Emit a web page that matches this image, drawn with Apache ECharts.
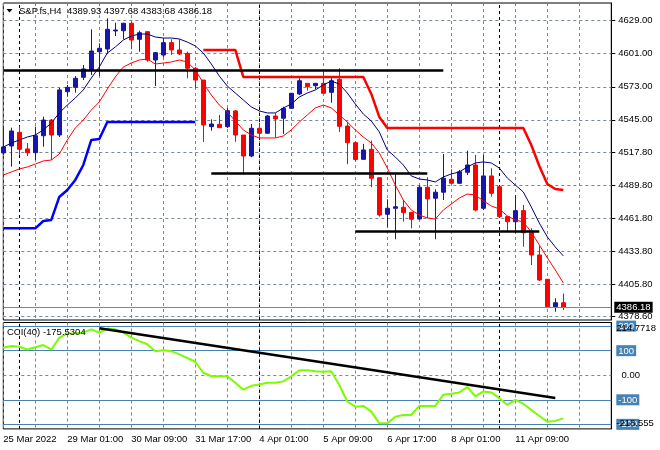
<!DOCTYPE html>
<html><head><meta charset="utf-8">
<script src="https://cdn.jsdelivr.net/npm/echarts@6/dist/echarts.min.js"></script>
<style>html,body{margin:0;padding:0;background:#fff}#c{width:660px;height:450px}</style>
</head><body><div id="c"></div>
<script>
const symbolName = 'S&P.fs,H4';
const opens = [4516.9,4522.8,4534.4,4520.3,4517.1,4531.5,4544.8,4532.1,4568.8,4572.5,4581.0,4587.2,4602.7,4605.0,4620.3,4620.5,4626.8,4613.2,4619.7,4595.7,4599.9,4610.4,4604.2,4601.4,4588.7,4578.7,4539.2,4541.2,4539.2,4552.5,4532.1,4514.3,4537.8,4533.6,4548.2,4546.3,4554.7,4566.9,4575.9,4573.9,4575.9,4568.3,4579.3,4539.7,4525.6,4511.5,4520.0,4495.9,4464.9,4470.0,4470.8,4466.6,4460.9,4487.8,4478.5,4483.6,4494.6,4491.2,4500.5,4506.7,4470.0,4497.4,4488.3,4462.9,4458.6,4468.0,4449.3,4430.4,4409.8,4386.6,4389.93];
const highs = [4538.9,4538.3,4539.7,4525.3,4539.1,4547.6,4545.7,4572.0,4574.5,4582.1,4591.4,4621.7,4609.8,4631.0,4627.3,4627.3,4628.1,4620.5,4620.3,4602.5,4614.1,4613.2,4613.2,4602.7,4589.8,4578.7,4545.4,4549.1,4555.0,4553.3,4532.1,4541.4,4542.5,4549.1,4550.5,4556.1,4567.7,4580.2,4575.9,4576.2,4585.8,4582.1,4588.7,4543.4,4526.6,4524.5,4527.5,4495.9,4477.6,4499.1,4477.0,4466.6,4489.7,4496.3,4486.1,4516.0,4503.0,4502.5,4518.8,4515.2,4515.2,4503.9,4488.3,4462.9,4481.3,4472.8,4453.0,4438.0,4409.8,4393.7,4397.68];
const lows = [4515.2,4505.3,4515.2,4514.3,4510.9,4522.2,4510.9,4530.4,4564.6,4568.0,4578.7,4583.0,4582.1,4601.4,4616.0,4613.2,4604.8,4602.7,4594.2,4573.6,4598.0,4599.9,4599.9,4580.2,4571.7,4526.2,4535.8,4538.0,4538.0,4526.4,4499.7,4513.2,4529.3,4533.0,4529.8,4533.0,4554.2,4566.0,4569.7,4570.9,4567.3,4559.5,4534.7,4507.3,4510.1,4511.3,4487.8,4462.9,4453.9,4443.7,4458.6,4453.0,4460.1,4461.5,4443.7,4477.0,4490.6,4490.6,4498.2,4467.3,4468.5,4479.8,4462.2,4450.2,4448.8,4437.4,4421.9,4408.4,4385.9,4382.3,4383.68];
const closes = [4522.0,4535.5,4520.0,4517.1,4531.5,4544.8,4532.1,4570.3,4572.5,4580.2,4588.1,4603.3,4605.6,4621.7,4621.1,4626.8,4612.6,4618.8,4595.7,4601.9,4610.4,4604.2,4600.8,4588.7,4578.7,4540.6,4541.4,4538.3,4552.7,4532.1,4514.3,4537.8,4533.6,4548.2,4545.7,4554.7,4567.5,4578.1,4573.1,4575.9,4567.5,4578.1,4539.5,4525.6,4511.3,4519.4,4495.4,4464.3,4470.0,4471.3,4466.3,4460.7,4487.8,4477.9,4483.6,4495.4,4491.2,4501.0,4506.7,4468.5,4497.4,4482.7,4462.9,4458.6,4468.0,4449.3,4430.4,4409.2,4386.6,4389.9,4386.18];
const fastMA = [4521.9,4525.3,4527.9,4530.4,4532.1,4536.4,4542.3,4550.8,4557.5,4563.5,4570.3,4580.4,4589.8,4601.6,4606.7,4612.6,4616.0,4617.7,4617.7,4615.2,4614.3,4614.3,4613.5,4610.9,4607.6,4601.6,4592.3,4582.1,4573.6,4567.7,4561.8,4555.9,4552.5,4550.8,4550.8,4555.0,4558.4,4564.3,4567.7,4570.3,4574.5,4577.9,4575.3,4567.7,4558.4,4549.9,4544.0,4534.7,4519.4,4513.5,4506.7,4497.4,4494.8,4494.0,4492.3,4496.5,4499.1,4500.8,4505.0,4508.4,4509.3,4508.4,4504.1,4495.7,4489.7,4483.8,4471.1,4457.5,4445.7,4437.2,4429.6];
const slowMA = [4498.2,4500.8,4503.3,4505.0,4507.5,4510.1,4510.9,4516.0,4527.9,4538.1,4544.8,4553.3,4560.1,4571.1,4581.3,4589.8,4593.1,4595.7,4596.5,4592.3,4593.1,4594.0,4595.7,4594.0,4587.2,4576.2,4566.0,4557.5,4551.6,4544.0,4536.4,4532.1,4529.6,4529.6,4529.6,4531.3,4536.4,4543.1,4549.1,4555.0,4557.5,4555.0,4549.1,4543.1,4536.4,4530.4,4525.3,4516.9,4504.1,4489.7,4477.0,4468.5,4464.3,4461.8,4460.9,4468.5,4473.6,4478.7,4482.1,4481.3,4476.2,4472.0,4469.4,4463.5,4460.1,4458.4,4449.9,4438.9,4428.0,4417.7,4406.7];
const upperBand = [null,null,null,null,null,null,null,null,null,null,null,null,null,null,null,null,null,null,null,null,null,null,null,null,null,4604.2,4604.2,4604.2,4604.2,4604.2,4581.3,4581.3,4581.3,4581.3,4581.3,4581.3,4581.3,4581.3,4581.3,4581.3,4581.3,4581.3,4581.3,4581.3,4581.3,4581.3,4566.9,4547.4,4538.1,4538.1,4538.1,4538.1,4538.1,4538.1,4538.1,4538.1,4538.1,4538.1,4538.1,4538.1,4538.1,4538.1,4538.1,4538.1,4538.1,4538.1,4523.6,4505.8,4490.6,4486.3,4485.5];
const lowerBand = [4453.0,4453.0,4453.0,4453.0,4453.0,4459.2,4460.1,4479.6,4485.5,4494.0,4506.7,4527.9,4528.7,4543.1,4543.1,4543.1,4543.1,4543.1,4543.1,4543.1,4543.1,4543.1,4543.1,4543.1,4543.1];
const cci = [112,119,116,105,114,123,105,153,170,171,174,187,174,190,187,174,153,139,126,98,102,98,85,71,55,10,-4,-4,-4,-31,-59,-43,-38,-31,-31,-25,-4,20,20,16,14,16,-40,-107,-128,-125,-148,-196,-196,-169,-162,-162,-125,-125,-125,-79,-75,-70,-48,-86,-66,-70,-93,-121,-100,-116,-141,-166,-189,-186,-175.5304];
const cciLevels = [200, 100, -100, -200];
const cciRange = [-218.555, 214.7718];
const priceTicks = [4378.6,4405.8,4433.8,4461.8,4489.8,4517.8,4545,4573,4601,4629];
const xTickIndex = [0,8,16,24,32,40,48,56,64];
const xTickLabels = ['25 Mar 2022','29 Mar 01:00','30 Mar 09:00','31 Mar 17:00','4 Apr 01:00','5 Apr 09:00','6 Apr 17:00','8 Apr 01:00','11 Apr 09:00'];
const separatorIndex = [2, 32, 62];
// horizontal drawn lines: [startBar, endBar, price]
const levelLines = [[0,55,4587.2],[26,53,4499.7],[44,67,4450.8]];
// CCI trend line: [startBar, value, endBar, value]
const cciTrend = [12, 191.2, 69, -92.7];

const SLOTS = 77;
const slots = Array.from({length: SLOTS}, (_, i) => String(i));
const FONT = '"Liberation Sans", Arial, sans-serif';
const FS = 9.5;
const gridColor = '#778899';
const bull = '#1616AC';
const bear = '#FF0000';
const candleData = opens.map((o, i) => [o, closes[i], lows[i], highs[i]]);
const last = candleData.length - 1;
const lastClose = closes[last];
const nullsMain = slots.map(() => null);

const chart = echarts.init(document.getElementById('c'), null, {renderer: 'canvas'});
const GL = 3.3, GW = 608;
const xBase = {
  type: 'category', data: slots, boundaryGap: false,
  axisLine: {show: false}, axisTick: {show: false},
  splitLine: {show: true, interval: (i) => i % 4 === 0, lineStyle: {color: gridColor, type: [3, 3], width: 1}}
};
const option = {
  animation: false,
  backgroundColor: '#fff',
  title: [
    {text: symbolName + '  ' + [opens[last], highs[last], lows[last], closes[last]].map(v => v.toFixed(2)).join(' '),
     left: 19, top: 6, padding: 0,
     textStyle: {fontSize: FS, fontWeight: 'normal', fontFamily: FONT, color: '#000'}},
    {text: 'CCI(40) ' + cci[last].toFixed(4), left: 7, top: 327, padding: 0,
     textStyle: {fontSize: FS, fontWeight: 'normal', fontFamily: FONT, color: '#000'}}
  ],
  graphic: [{type: 'polygon', shape: {points: [[6.5, 9], [12.5, 9], [9.5, 12.5]]}, style: {fill: '#000'}}],
  grid: [
    {left: GL, width: GW, top: 3, height: 317, show: true, borderColor: '#000', borderWidth: 1},
    {left: GL, width: GW, top: 322.5, height: 106.4, show: true, borderColor: '#000', borderWidth: 1}
  ],
  xAxis: [
    Object.assign({}, xBase, {gridIndex: 0, axisLabel: {show: false}}),
    Object.assign({}, xBase, {gridIndex: 1, axisLabel: {
      show: true, interval: (i) => xTickIndex.includes(i),
      formatter: (v) => { const k = xTickIndex.indexOf(Number(v)); return k >= 0 ? xTickLabels[k] : ''; },
      align: 'left', margin: 5, fontSize: FS, fontFamily: FONT, color: '#000'}})
  ],
  yAxis: [
    {type: 'value', gridIndex: 0, position: 'right', min: 4375.3, max: 4644,
     axisLine: {show: true, lineStyle: {color: '#000'}},
     axisTick: {show: true, customValues: priceTicks, length: 4, lineStyle: {color: '#000'}},
     axisLabel: {customValues: priceTicks, formatter: (v) => v.toFixed(2), margin: 7, fontSize: FS, fontFamily: FONT, color: '#000'},
     splitLine: {show: false}},
    {type: 'value', gridIndex: 1, position: 'right', min: cciRange[0], max: cciRange[1],
     axisLine: {show: true, lineStyle: {color: '#000'}}, axisTick: {show: false},
     axisLabel: {customValues: [200, 100, 0, -100, -200], margin: 5, fontSize: FS, fontFamily: FONT, color: '#000',
       formatter: (v) => v === 0 ? '  0.00' : '{b|' + v + '}',
       rich: {b: {backgroundColor: '#4682B4', color: '#fff', padding: [1, 2, 0, 2], fontSize: FS, fontFamily: FONT}}},
     splitLine: {show: false}},
    {type: 'value', gridIndex: 1, position: 'right', min: cciRange[0], max: cciRange[1],
     axisLine: {show: false}, axisTick: {show: false},
     axisLabel: {customValues: [cciRange[1]], formatter: (v) => v.toFixed(4), verticalAlign: 'top', margin: 5, fontSize: FS, fontFamily: FONT, color: '#000', padding: [1, 0, 0, 0]},
     splitLine: {show: false}},
    {type: 'value', gridIndex: 1, position: 'right', min: cciRange[0], max: cciRange[1],
     axisLine: {show: false}, axisTick: {show: false},
     axisLabel: {customValues: [cciRange[0]], formatter: (v) => v.toFixed(3), verticalAlign: 'bottom', margin: 5, fontSize: FS, fontFamily: FONT, color: '#000', padding: [0, 0, 1, 0]},
     splitLine: {show: false}}
  ],
  series: [
    {type: 'line', xAxisIndex: 0, yAxisIndex: 0, data: nullsMain, silent: true, showSymbol: false,
     markLine: {z: 1, silent: true, symbol: 'none', animation: false, label: {show: false},
       data: priceTicks.map(v => ({yAxis: v, lineStyle: {color: gridColor, type: [3, 3], width: 1}}))
         .concat(separatorIndex.map(i => ({xAxis: String(i), lineStyle: {color: '#000', type: [3, 3], width: 1}})))}},
    {type: 'candlestick', xAxisIndex: 0, yAxisIndex: 0, data: candleData, barWidth: 5, z: 3,
     itemStyle: {color: bull, color0: bear, borderColor: bull, borderColor0: bear, borderWidth: 1}},
    {type: 'line', xAxisIndex: 0, yAxisIndex: 0, data: slowMA, showSymbol: false, z: 4,
     lineStyle: {color: '#FF0000', width: 1}},
    {type: 'line', xAxisIndex: 0, yAxisIndex: 0, data: fastMA, showSymbol: false, z: 4,
     lineStyle: {color: '#000080', width: 1}},
    {type: 'line', xAxisIndex: 0, yAxisIndex: 0, data: upperBand, showSymbol: false, z: 4,
     lineStyle: {color: '#FF0000', width: 2.5}},
    {type: 'line', xAxisIndex: 0, yAxisIndex: 0, data: lowerBand, showSymbol: false, z: 4,
     lineStyle: {color: '#0000FF', width: 2.5}},
    {type: 'line', xAxisIndex: 0, yAxisIndex: 0, data: nullsMain, silent: true, showSymbol: false,
     markLine: {z: 6, silent: true, symbol: 'none', animation: false,
       data: levelLines.map(l => [
         {coord: [String(l[0]), l[2]], lineStyle: {color: '#000', width: 2.5, type: 'solid'}, label: {show: false}},
         {coord: [String(l[1]), l[2]]}
       ]).concat([{yAxis: lastClose, lineStyle: {color: gridColor, width: 1, type: 'solid'},
         label: {show: true, position: 'end', distance: 3, formatter: lastClose.toFixed(2),
           backgroundColor: '#000', color: '#fff', padding: [1, 2, 0, 2], fontSize: FS, fontFamily: FONT}}])}},
    {type: 'line', xAxisIndex: 1, yAxisIndex: 1, data: slots.map(() => null), silent: true, showSymbol: false,
     markLine: {z: 1, silent: true, symbol: 'none', animation: false, label: {show: false},
       data: cciLevels.map(v => ({yAxis: v, lineStyle: {color: '#4682B4', width: 1, type: 'solid'}}))
         .concat([{yAxis: 0, lineStyle: {color: gridColor, type: [3, 3], width: 1}}])
         .concat(separatorIndex.map(i => ({xAxis: String(i), lineStyle: {color: '#000', type: [3, 3], width: 1}})))}},
    {type: 'line', xAxisIndex: 1, yAxisIndex: 1, data: cci, showSymbol: false, z: 3,
     lineStyle: {color: '#7CFC00', width: 2}},
    {type: 'line', xAxisIndex: 1, yAxisIndex: 1, data: slots.map(() => null), silent: true, showSymbol: false,
     markLine: {z: 6, silent: true, symbol: 'none', animation: false, label: {show: false},
       data: [[{coord: [String(cciTrend[0]), cciTrend[1]], lineStyle: {color: '#000', width: 2.5, type: 'solid'}},
               {coord: [String(cciTrend[2]), cciTrend[3]]}]]}}
  ]
};
chart.setOption(option);
</script></body></html>
